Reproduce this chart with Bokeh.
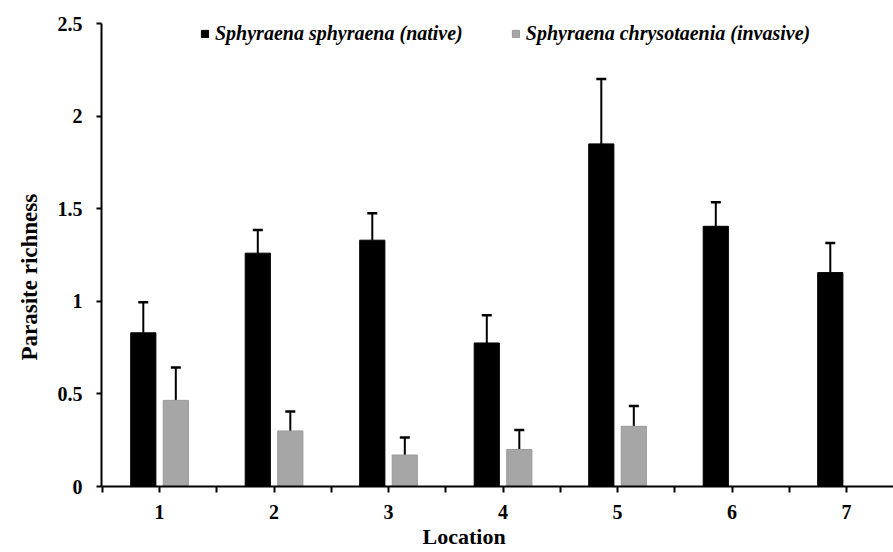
from bokeh.plotting import figure
from bokeh.models import (ColumnDataSource, Whisker, TeeHead, FixedTicker, Legend,
                          LegendItem, Range1d, Title)
from bokeh.embed import file_html
from bokeh.resources import INLINE

# ---- data ----
locations = [1, 2, 3, 4, 5, 6, 7]
tick_labels = ["1", "2", "3", "4", "5", "6", "7"]
native_mean = [0.83, 1.26, 1.33, 0.775, 1.85, 1.405, 1.155]
native_se = [0.165, 0.125, 0.145, 0.15, 0.35, 0.13, 0.16]
invasive_locations = [1, 2, 3, 4, 5]
invasive_mean = [0.465, 0.30, 0.17, 0.20, 0.325]
invasive_se = [0.178, 0.105, 0.095, 0.105, 0.11]
series_names = ["Sphyraena sphyraena (native)", "Sphyraena chrysotaenia (invasive)"]
x_title = "Location"
y_title = "Parasite richness"

FONT = "Liberation Serif"
OFF = 0.142
BW = 0.22

nat = ColumnDataSource(dict(
    x=[l - OFF for l in locations], top=native_mean,
    upper=[m + s for m, s in zip(native_mean, native_se)]))
inv = ColumnDataSource(dict(
    x=[l + OFF for l in invasive_locations], top=invasive_mean,
    upper=[m + s for m, s in zip(invasive_mean, invasive_se)]))

p = figure(width=893, height=552, output_backend="svg", toolbar_location=None,
           x_range=Range1d(0.493, 7.41), y_range=Range1d(0, 2.5),
           min_border_left=101, min_border_right=0, min_border_top=23,
           min_border_bottom=66)
p.outline_line_color = None
p.grid.grid_line_color = None
p.background_fill_color = "white"
p.border_fill_color = "white"

r1 = p.vbar(x="x", top="top", width=BW, source=nat, fill_color="black",
            line_color="black", line_width=1)
r2 = p.vbar(x="x", top="top", width=BW, source=inv, fill_color="#a6a6a6",
            line_color="#9a9a9a", line_width=1)

for src in (nat, inv):
    w = Whisker(base="x", lower="top", upper="upper", source=src,
                line_color="black", line_width=2, lower_head=None,
                upper_head=TeeHead(size=10, line_color="black", line_width=2.5))
    p.add_layout(w)

# axes
p.xaxis.ticker = FixedTicker(ticks=locations,
                             minor_ticks=[l - 0.5 for l in locations] + [7.5])
p.xaxis.major_label_overrides = {l: t for l, t in zip(locations, tick_labels)}
p.yaxis.ticker = FixedTicker(ticks=[0, 0.5, 1, 1.5, 2, 2.5], minor_ticks=[])
p.yaxis.major_label_overrides = {0: "0", 0.5: "0.5", 1: "1", 1.5: "1.5", 2: "2", 2.5: "2.5"}

for ax in (p.xaxis[0], p.yaxis[0]):
    ax.axis_line_color = "black"
    ax.axis_line_width = 2
    ax.major_tick_line_color = "black"
    ax.major_tick_line_width = 2
    ax.minor_tick_line_color = "black"
    ax.minor_tick_line_width = 2
    ax.major_tick_in = 0
    ax.minor_tick_in = 0
    ax.major_label_text_font = FONT
    ax.major_label_text_font_style = "bold"
    ax.major_label_text_font_size = "20px"
    ax.major_label_text_color = "black"

p.xaxis.major_tick_out = 6
p.xaxis.minor_tick_out = 6
p.xaxis.major_label_standoff = 12
p.yaxis.major_tick_out = 5
p.yaxis.major_label_standoff = 14

xt = Title(text=x_title, align="left", offset=321, standoff=0,
           text_font=FONT, text_font_style="bold", text_font_size="22px",
           text_color="black")
p.add_layout(xt, "below")
yt = Title(text=y_title, align="left", offset=126, standoff=26,
           text_font=FONT, text_font_style="bold", text_font_size="23px",
           text_color="black")
p.add_layout(yt, "left")

legend = Legend(items=[LegendItem(label=series_names[0], renderers=[r1]),
                       LegendItem(label=series_names[1], renderers=[r2])],
                orientation="horizontal", location=(99, 441),
                glyph_width=9, glyph_height=9, label_standoff=6, spacing=48,
                padding=0, margin=0, border_line_color=None,
                background_fill_alpha=0,
                label_text_font=FONT, label_text_font_style="bold italic",
                label_text_font_size="20px", label_text_color="black")
p.add_layout(legend)

open("out.html", "w").write(file_html(p, INLINE))
